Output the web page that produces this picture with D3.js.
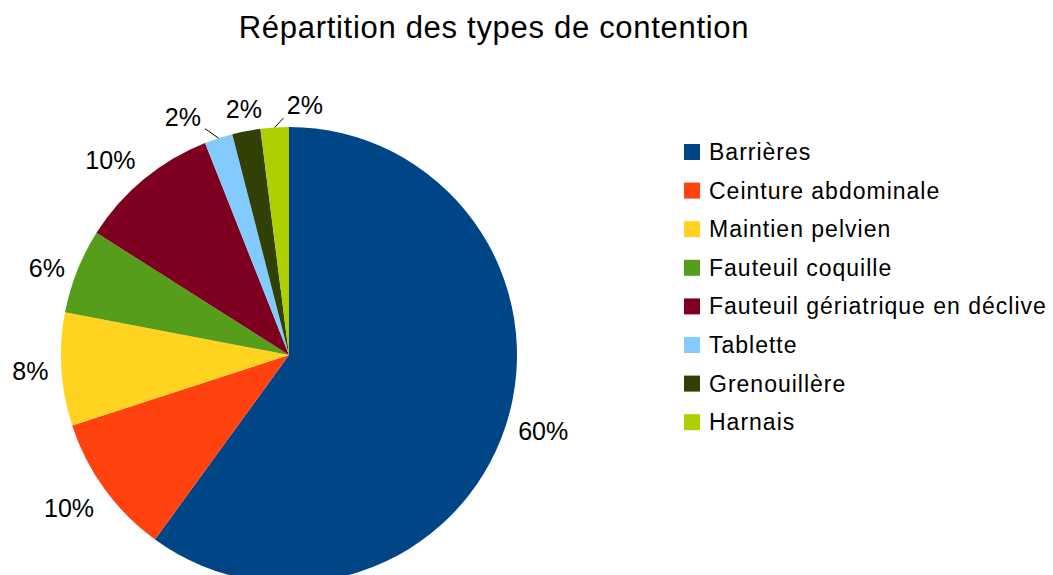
<!DOCTYPE html>
<html>
<head>
<meta charset="utf-8">
<script src="https://cdn.jsdelivr.net/npm/d3@7"></script>
<style>
  body { margin: 0; background: #fff; }
  svg text { font-family: "Liberation Sans", Arial, sans-serif; fill: #000; }
</style>
</head>
<body>
<div id="chart"></div>
<script>
// Values (counts out of 50)
var categories = ["Barrières", "Ceinture abdominale", "Maintien pelvien", "Fauteuil coquille",
                  "Fauteuil gériatrique en déclive", "Tablette", "Grenouillère", "Harnais"];
var counts = [30, 5, 4, 3, 5, 1, 1, 1];
var colors = ["#004586", "#ff420e", "#ffd320", "#579d1c", "#7e0021", "#83caff", "#314004", "#aecf00"];

var width = 1053, height = 575;
var cx = 289, cy = 355, radius = 228;
var labelGap = 13;

var svg = d3.select("#chart").append("svg")
    .attr("width", width)
    .attr("height", height);

svg.append("text")
   .attr("x", 494)
   .attr("y", 38)
   .style("text-anchor", "middle")
   .style("font-size", "31px")
   .style("letter-spacing", "0.7px")
   .text("Répartition des types de contention");

var total = d3.sum(counts);
var pct = d3.format(".0%");
var pie = d3.pie().sort(null).value(function (d) { return d; });
var arc = d3.arc().innerRadius(0).outerRadius(radius);
var arcs = pie(counts);

var g = svg.append("g").attr("transform", "translate(" + cx + "," + cy + ")");

g.selectAll("path.slice")
  .data(arcs)
  .enter().append("path")
    .attr("class", "slice")
    .attr("d", arc)
    .attr("fill", function (d, i) { return colors[i]; });

// label boxes placed just outside the edge, aligned away from the centre
var fontSize = 25;
var labels = arcs.map(function (d, i) {
  var a = (d.startAngle + d.endAngle) / 2,
      s = Math.sin(a), c = Math.cos(a),
      px = s * (radius + labelGap), py = -c * (radius + labelGap),
      text = pct(d.value / total);
  return { i: i, a: a, s: s, c: c, px: px, py: py, text: text, frac: d.value / total };
});

var tmp = g.append("text").style("font-size", fontSize + "px");
labels.forEach(function (l) {
  tmp.text(l.text);
  var bb = tmp.node().getBBox();
  l.w = bb.width; l.h = fontSize * 0.82;
  var hx = Math.abs(l.s) < 0.25 ? 0.5 : (l.s > 0 ? 0 : 1);
  var vy = Math.abs(l.c) < 0.5 ? 0.5 : (l.c > 0 ? 1 : 0);
  l.x0 = l.px - l.w * hx;
  l.y0 = l.py - l.h * vy;
  l.moved = false;
});
tmp.remove();

// spread the small neighbouring labels at the top so they do not collide
var small = labels.filter(function (l) { return l.frac < 0.03; })
                  .sort(function (a, b) { return a.x0 - b.x0; });
var mid = Math.floor(small.length / 2), spacing = 61;
small.forEach(function (l, k) {
  var centre = small[mid].x0 + small[mid].w / 2 + (k - mid) * spacing;
  var nx = centre - l.w / 2;
  if (Math.abs(nx - l.x0) > 2) { l.moved = true; }
  l.x0 = nx;
});

// leader lines for the labels that were pushed away
labels.filter(function (l) { return l.moved; }).forEach(function (l) {
  var ex = l.s * radius, ey = -l.c * radius;
  var tx = Math.max(l.x0, Math.min(ex, l.x0 + l.w)),
      ty = Math.max(l.y0, Math.min(ey, l.y0 + l.h));
  var dx = tx - ex, dy = ty - ey, len = Math.sqrt(dx * dx + dy * dy), k = (len - 5) / len;
  g.append("line")
    .attr("x1", ex).attr("y1", ey)
    .attr("x2", ex + dx * k).attr("y2", ey + dy * k)
    .attr("stroke", "#000")
    .attr("stroke-width", 1);
});

g.selectAll("text.lbl")
  .data(labels)
  .enter().append("text")
    .attr("class", "lbl")
    .attr("x", function (l) { return l.x0; })
    .attr("y", function (l) { return l.y0 + l.h; })
    .style("font-size", fontSize + "px")
    .text(function (l) { return l.text; });

// legend
var legend = svg.append("g").attr("transform", "translate(684,152)");
var rowH = 38.6;
var rows = legend.selectAll("g.row")
  .data(categories)
  .enter().append("g")
    .attr("class", "row")
    .attr("transform", function (d, i) { return "translate(0," + (i * rowH) + ")"; });

rows.append("rect")
    .attr("x", 0).attr("y", -8)
    .attr("width", 16).attr("height", 16)
    .attr("fill", function (d, i) { return colors[i]; });

rows.append("text")
    .attr("x", 25)
    .attr("y", 8)
    .style("font-size", "23px")
    .style("letter-spacing", "1px")
    .text(function (d) { return d; });
</script>
</body>
</html>
